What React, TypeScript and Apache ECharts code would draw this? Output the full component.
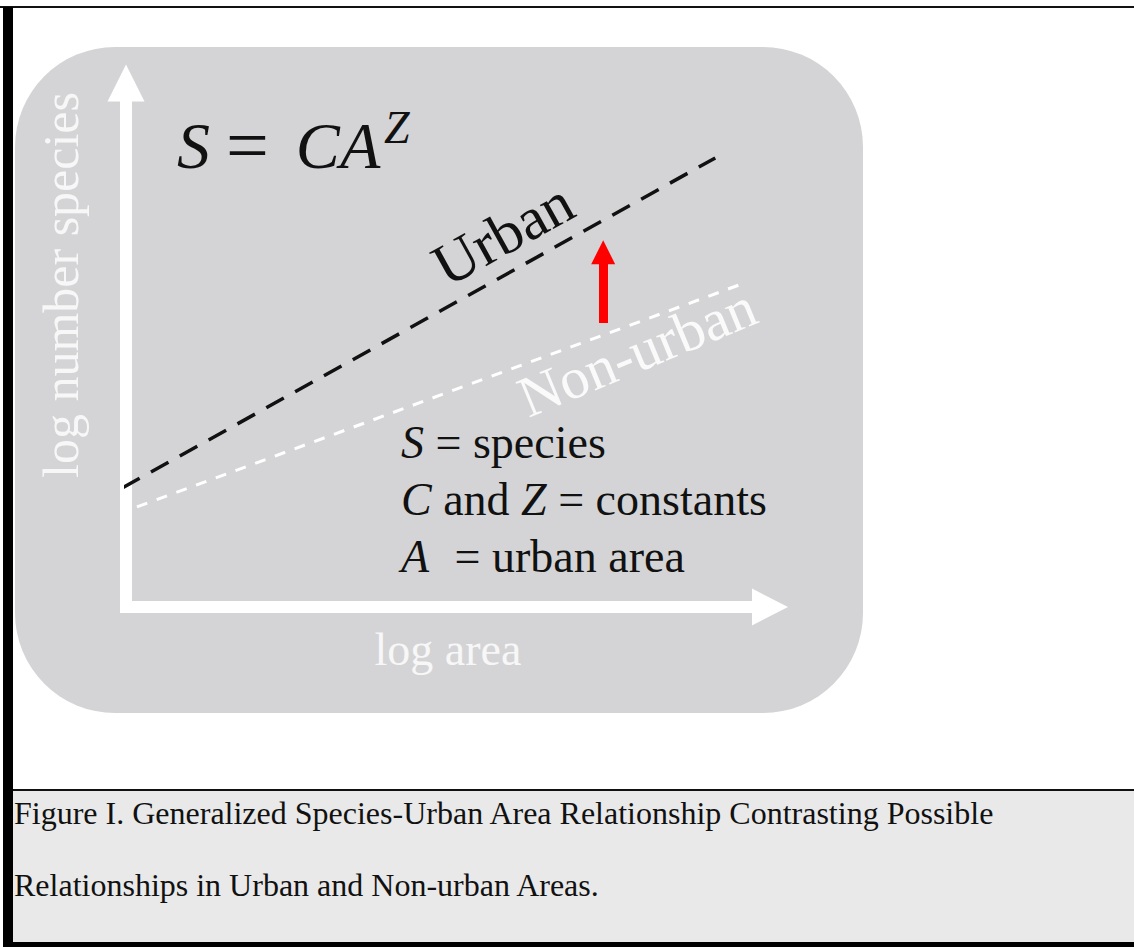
import React, { useEffect, useRef } from "react";
import * as echarts from "echarts";

// ---- data (log-log species–area relationship) ----
const urbanLogArea = [-0.06, 9.15];
const urbanLogSpecies = [2.27, 8.57];
const nonUrbanLogArea = [0.17, 9.64];
const nonUrbanLogSpecies = [1.91, 6.2];
const shiftArrowLogArea = 7.41;
const shiftArrowFrom = 5.42;
const shiftArrowTo = 6.77;
const axisMin = 0;
const axisMax = 10;

const xAxisName = "log area";
const yAxisName = "log number species";
const urbanLabel = "Urban";
const nonUrbanLabel = "Non-urban";
const legendLines = [
  "{i|S}{n| = species}",
  "{i|C}{n| and }{i|Z}{n| = constants}",
  "{ia|A}{n| = urban area}",
];
const captionLines = [
  "Figure I. Generalized Species-Urban Area Relationship Contrasting Possible",
  "Relationships in Urban and Non-urban Areas.",
];

const SERIF = "Liberation Serif";

export default function App() {
  const ref = useRef<HTMLDivElement>(null);

  useEffect(() => {
    if (!ref.current) return;
    const chart = echarts.init(ref.current, null, { renderer: "svg" });

    const legendRich = {
      i: { fontStyle: "italic", fontSize: 46, fontFamily: SERIF, fill: "#111" },
      ia: { fontStyle: "italic", fontSize: 46, fontFamily: SERIF, fill: "#111", padding: [0, 14, 0, 0] },
      n: { fontSize: 46, fontFamily: SERIF, fill: "#111" },
    };

    const option: any = {
      animation: false,
      grid: { left: 126, top: 83, width: 644, height: 524, containLabel: false },
      xAxis: {
        type: "value",
        min: axisMin,
        max: axisMax,
        name: xAxisName,
        nameLocation: "middle",
        nameGap: 19,
        nameTextStyle: { color: "#f7f7f7", fontSize: 46, fontFamily: SERIF },
        axisLine: {
          show: true,
          onZero: false,
          symbol: ["none", "triangle"],
          symbolSize: [37, 36],
          lineStyle: { color: "#ffffff", width: 12, cap: "square" },
        },
        axisTick: { show: false },
        axisLabel: { show: false },
        splitLine: { show: false },
      },
      yAxis: {
        type: "value",
        min: axisMin,
        max: axisMax,
        axisLine: {
          show: true,
          onZero: false,
          symbol: ["none", "triangle"],
          symbolSize: [37, 37],
          lineStyle: { color: "#ffffff", width: 12, cap: "square" },
        },
        axisTick: { show: false },
        axisLabel: { show: false },
        splitLine: { show: false },
      },
      series: [
        {
          type: "line",
          name: urbanLabel,
          data: urbanLogArea.map((x, i) => [x, urbanLogSpecies[i]]),
          symbol: "none",
          clip: false,
          silent: true,
          z: 5,
          lineStyle: { color: "#111", width: 3.5, type: [20, 13] },
          markLine: {
            silent: true,
            symbol: ["none", "triangle"],
            symbolSize: 24,
            label: { show: false },
            emphasis: { disabled: true },
            lineStyle: { color: "#ff0000", width: 9, type: "solid" },
            data: [
              [
                { coord: [shiftArrowLogArea, shiftArrowFrom] },
                { coord: [shiftArrowLogArea, shiftArrowTo] },
              ],
            ],
          },
        },
        {
          type: "line",
          name: nonUrbanLabel,
          data: nonUrbanLogArea.map((x, i) => [x, nonUrbanLogSpecies[i]]),
          symbol: "none",
          clip: false,
          silent: true,
          z: 5,
          lineStyle: { color: "#ffffff", width: 3, type: [11, 10] },
        },
      ],
      graphic: [
        // page frame
        { type: "rect", z: -20, shape: { x: 0, y: 6, width: 1134, height: 2 }, style: { fill: "#111" } },
        { type: "rect", z: -20, shape: { x: 3, y: 7, width: 10, height: 940 }, style: { fill: "#000" } },
        // caption box
        { type: "rect", z: -20, shape: { x: 13, y: 790, width: 1121, height: 152 }, style: { fill: "#e9e9e9" } },
        { type: "rect", z: -20, shape: { x: 13, y: 789, width: 1121, height: 2 }, style: { fill: "#111" } },
        { type: "rect", z: -20, shape: { x: 3, y: 942, width: 1131, height: 5 }, style: { fill: "#000" } },
        // chart panel
        {
          type: "rect",
          z: -10,
          shape: { x: 15, y: 47, width: 848, height: 666, r: 100 },
          style: { fill: "#d4d4d6" },
        },
        // y-axis title
        {
          type: "text",
          z: 10,
          x: 61,
          y: 285,
          rotation: Math.PI / 2,
          style: {
            text: yAxisName,
            fontSize: 50,
            fontFamily: SERIF,
            fill: "#f7f7f7",
            align: "center",
            verticalAlign: "middle",
          },
        },
        // formula
        {
          type: "text",
          z: 10,
          x: 177,
          y: 145,
          style: {
            text: "{i|S}{n|=}{i|CA}",
            rich: {
              i: { fontStyle: "italic", fontSize: 66, fontFamily: SERIF, fill: "#111" },
              n: { fontSize: 76, fontFamily: SERIF, fill: "#111", padding: [0, 27, 0, 16] },
            },
            fontSize: 66,
            fontFamily: SERIF,
            fill: "#111",
            align: "left",
            verticalAlign: "middle",
          },
        },
        {
          type: "text",
          z: 10,
          x: 384,
          y: 127,
          style: {
            text: "Z",
            fontStyle: "italic",
            fontSize: 46,
            fontFamily: SERIF,
            fill: "#111",
            align: "left",
            verticalAlign: "middle",
          },
        },
        // line labels
        {
          type: "text",
          z: 10,
          x: 503,
          y: 234,
          rotation: (29 * Math.PI) / 180,
          style: {
            text: urbanLabel,
            fontSize: 60,
            fontFamily: SERIF,
            fill: "#111",
            align: "center",
            verticalAlign: "middle",
          },
        },
        {
          type: "text",
          z: 10,
          x: 637,
          y: 352,
          rotation: (22.5 * Math.PI) / 180,
          style: {
            text: nonUrbanLabel,
            fontSize: 58,
            fontFamily: SERIF,
            fill: "#fafafa",
            align: "center",
            verticalAlign: "middle",
          },
        },
        // legend definitions
        ...legendLines.map((t, i) => ({
          type: "text",
          z: 10,
          x: 401,
          y: 442.5 + i * 57,
          style: {
            text: t,
            rich: legendRich,
            fontSize: 46,
            fontFamily: SERIF,
            fill: "#111",
            align: "left",
            verticalAlign: "middle",
          },
        })),
        // caption
        ...captionLines.map((t, i) => ({
          type: "text",
          z: 10,
          x: 14,
          y: 813 + i * 72,
          style: {
            text: t,
            fontSize: 32,
            fontFamily: SERIF,
            fill: "#111",
            align: "left",
            verticalAlign: "middle",
          },
        })),
      ],
    };

    chart.setOption(option);
    return () => chart.dispose();
  }, []);

  return (
    <div
      ref={ref}
      style={{ position: "fixed", left: 0, top: 0, width: 1134, height: 947, background: "#ffffff" }}
    />
  );
}
